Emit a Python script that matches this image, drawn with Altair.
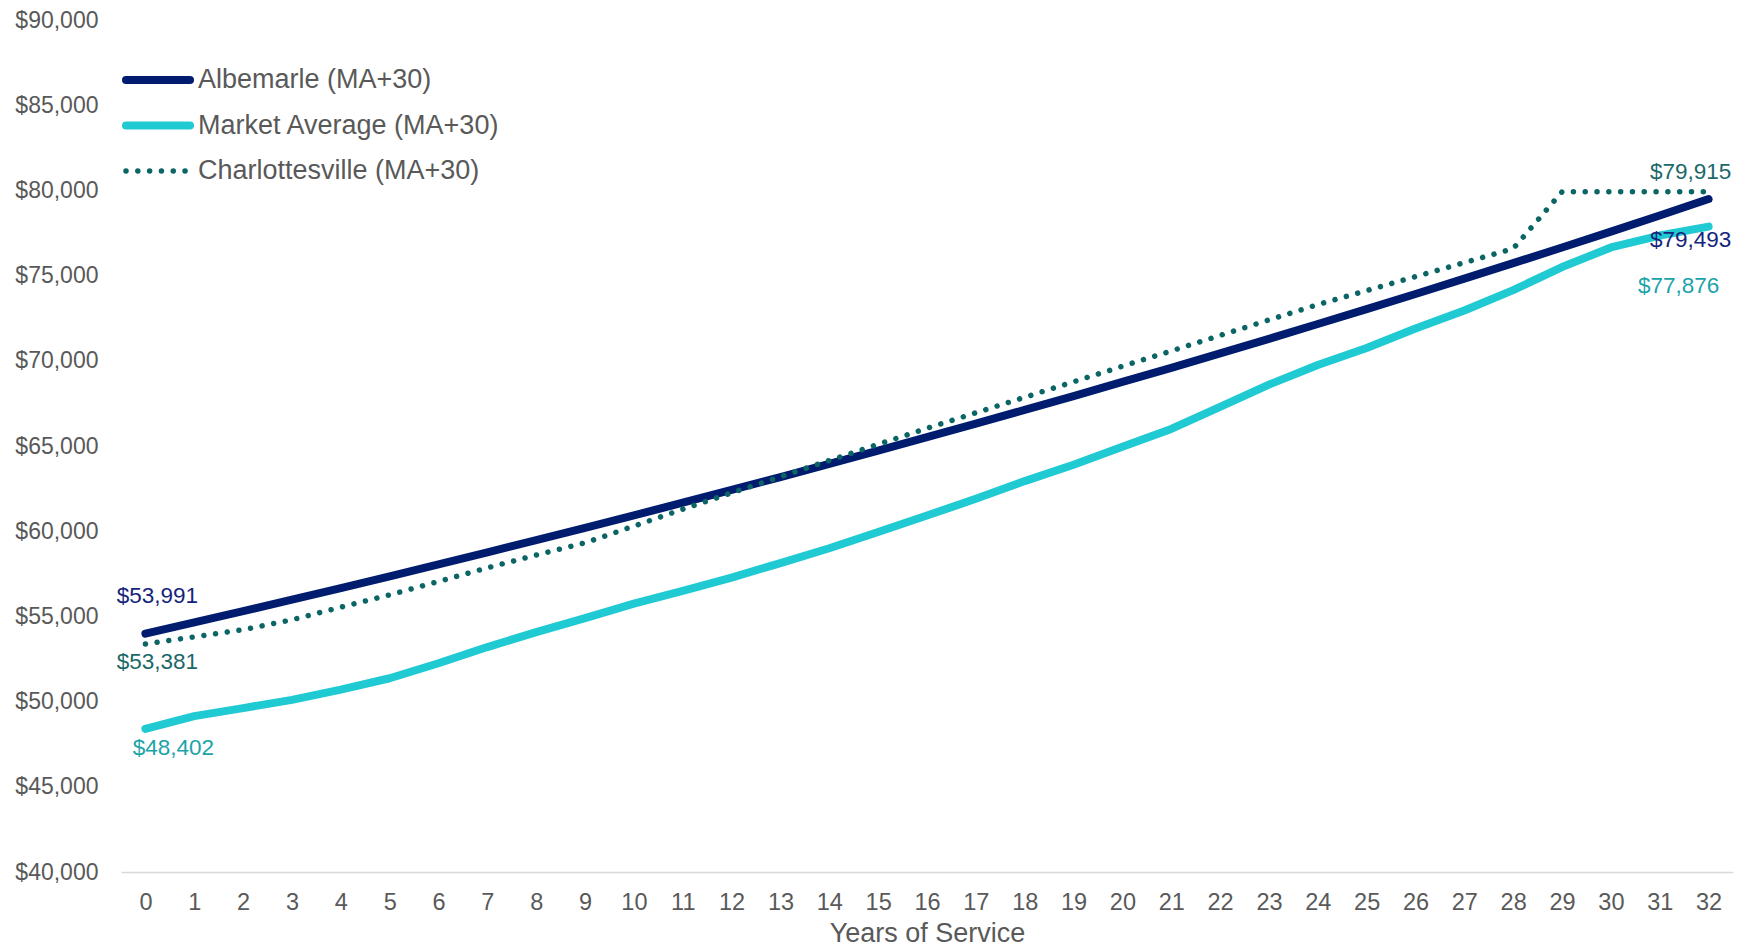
import altair as alt
import pandas as pd

# Salary schedule by years of service
years = list(range(33))

albemarle = [
    53991, 54650, 55310, 55980, 56660, 57350, 58050, 58760, 59470, 60200,
    60930, 61670, 62420, 63180, 63950, 64730, 65520, 66310, 67120, 67930,
    68760, 69590, 70440, 71290, 72160, 73030, 73920, 74820, 75730, 76650,
    77580, 78530, 79493,
]

market_average = [
    48402, 49150, 49620, 50100, 50700, 51370, 52250, 53200, 54080, 54900,
    55750, 56500, 57280, 58130, 59000, 59950, 60920, 61900, 62940, 63900,
    64950, 66000, 67300, 68600, 69750, 70750, 71900, 72950, 74150, 75500,
    76650, 77350, 77876,
]

charlottesville = [
    53381, 53800, 54220, 54800, 55540, 56260, 57050, 57850, 58600, 59320,
    60300, 61290, 62250, 63200, 64150, 65100, 66040, 66950, 67860, 68770,
    69680, 70580, 71490, 72400, 73300, 74120, 74940, 75760, 76580, 79915,
    79915, 79915, 79915,
]

series_names = [
    "Albemarle (MA+30)",
    "Market Average (MA+30)",
    "Charlottesville (MA+30)",
]
series_values = [albemarle, market_average, charlottesville]

y_ticks = list(range(40000, 90001, 5000))

FONT = "Liberation Sans"
GREY = "#595959"

NAVY = "#001C6E"
CYAN = "#1FCAD3"
TEAL = "#0B6565"

line_style = {
    "Albemarle (MA+30)": dict(color=NAVY, strokeWidth=8),
    "Market Average (MA+30)": dict(color=CYAN, strokeWidth=8),
    "Charlottesville (MA+30)": dict(color=TEAL, strokeWidth=5.5, strokeDash=[0.01, 11.8]),
}

rows = []
for name, vals in zip(series_names, series_values):
    for yr, v in zip(years, vals):
        rows.append({"year": yr, "salary": v, "series": name})
df = pd.DataFrame(rows)

x_enc = alt.X(
    "year:O",
    scale=alt.Scale(type="point", padding=0.5, domain=years),
    axis=alt.Axis(
        title="Years of Service",
        labelAngle=0,
        labelFontSize=23.5,
        labelColor=GREY,
        labelFont=FONT,
        labelPadding=18,
        ticks=False,
        domainColor="#D9D9D9",
        domainWidth=1.5,
        titleFontSize=27,
        titleFontWeight="normal",
        titleColor=GREY,
        titleFont=FONT,
        titlePadding=7,
    ),
)
y_enc = alt.Y(
    "salary:Q",
    scale=alt.Scale(domain=[40000, 90000], nice=False, zero=False),
    axis=alt.Axis(
        title=None,
        values=y_ticks,
        format="$,.0f",
        labelFontSize=23,
        labelColor=GREY,
        labelFont=FONT,
        labelPadding=23,
        ticks=False,
        domain=False,
        grid=False,
    ),
)

base = alt.Chart(df)

# Draw order: market average, Albemarle, then the dotted Charlottesville line on top
draw_order = ["Market Average (MA+30)", "Albemarle (MA+30)", "Charlottesville (MA+30)"]
line_layers = []
for name in draw_order:
    line_layers.append(
        base.transform_filter(alt.datum.series == name)
        .mark_line(strokeCap="round", strokeJoin="round", **line_style[name])
        .encode(x=x_enc, y=y_enc)
    )

# End-point value labels
label_specs = [
    # series, which end, colour, dx, dy
    ("Albemarle (MA+30)", 0, "#14247A", 12, -38),
    ("Charlottesville (MA+30)", 0, "#1A6868", 12, 18),
    ("Market Average (MA+30)", 0, "#1BA3A8", 28, 19),
    ("Charlottesville (MA+30)", 32, "#1A6868", -18, -20),
    ("Albemarle (MA+30)", 32, "#14247A", -18, 41),
    ("Market Average (MA+30)", 32, "#1BA3A8", -30, 59),
]
label_layers = []
for name, yr, color, dx, dy in label_specs:
    label_layers.append(
        base.transform_filter((alt.datum.series == name) & (alt.datum.year == yr))
        .mark_text(font=FONT, fontSize=22.5, color=color, dx=dx, dy=dy, baseline="middle", align="center")
        .encode(x=x_enc, y=y_enc, text=alt.Text("salary:Q", format="$,.0f"))
    )

# Legend in the upper-left corner of the plot
legend_df = pd.DataFrame({"series": series_names})
legend_layers = []
for i, name in enumerate(series_names):
    row_y = 60 + 45.5 * i
    st = line_style[name]
    legend_layers.append(
        alt.Chart(legend_df)
        .transform_filter(alt.datum.series == name)
        .mark_rule(strokeCap="round", **st)
        .encode(x=alt.value(5), x2=alt.value(69) if "strokeDash" not in st else alt.value(72), y=alt.value(row_y))
    )
    legend_layers.append(
        alt.Chart(legend_df)
        .transform_filter(alt.datum.series == name)
        .mark_text(font=FONT, fontSize=27, color=GREY, align="left", baseline="middle")
        .encode(x=alt.value(77), y=alt.value(row_y), text="series:N")
    )

chart = (
    alt.layer(*line_layers, *label_layers, *legend_layers)
    .properties(
        width=1612,
        height=852,
        background="white",
        autosize=alt.AutoSizeParams(type="none"),
        padding={"left": 121, "top": 20, "right": 13, "bottom": 76},
    )
    .configure_view(stroke=None)
)

chart.save("out.html", embed_options={"renderer": "svg", "actions": False})
